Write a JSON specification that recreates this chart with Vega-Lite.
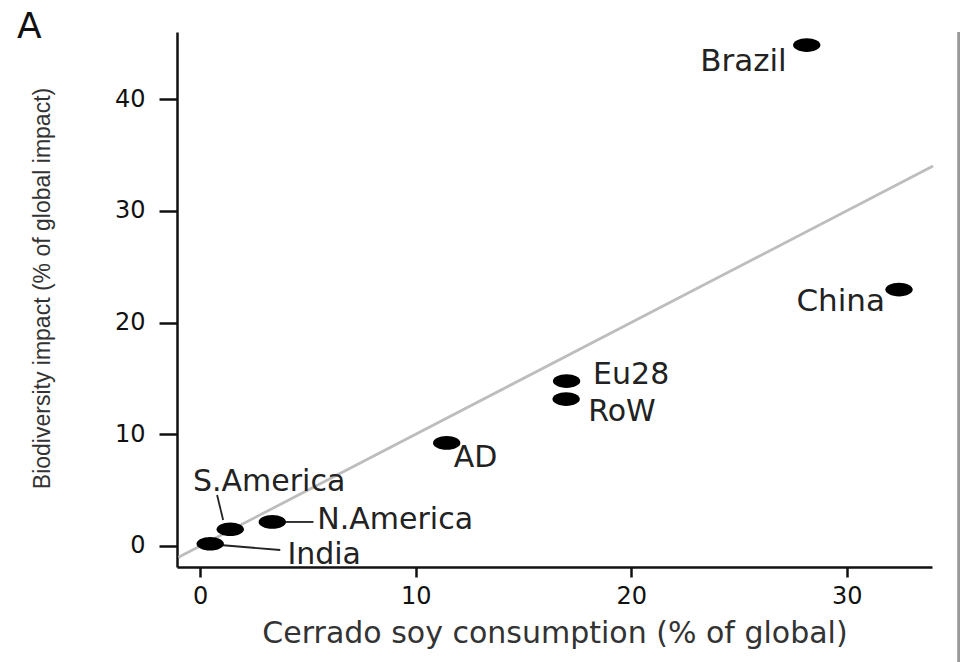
{
  "$schema": "https://vega.github.io/schema/vega-lite/v6.json",
  "width": 755,
  "height": 535,
  "autosize": "none",
  "padding": {"left": 177, "top": 32, "right": 28, "bottom": 95},
  "background": "white",
  "title": {"text": "A", "anchor": "start", "frame": "group", "dx": -160, "dy": 48, "baseline": "alphabetic", "fontSize": 36, "font": "DejaVu Sans", "fontWeight": "normal", "color": "#111"},
  "datasets": {
    "countries": [
      {"country": "Brazil", "x": 28.14, "y": 44.83, "lx": 27.21, "ly": 43.3},
      {"country": "China", "x": 32.42, "y": 22.95, "lx": 31.77, "ly": 21.83},
      {"country": "Eu28", "x": 17.0, "y": 14.76, "lx": 18.23, "ly": 15.3},
      {"country": "RoW", "x": 16.98, "y": 13.15, "lx": 18.0, "ly": 12.0},
      {"country": "AD", "x": 11.44, "y": 9.22, "lx": 11.77, "ly": 7.9},
      {"country": "N.America", "x": 3.35, "y": 2.15, "lx": 5.44, "ly": 2.35},
      {"country": "S.America", "x": 1.4, "y": 1.5, "lx": -0.33, "ly": 5.73},
      {"country": "India", "x": 0.47, "y": 0.2, "lx": 4.05, "ly": -0.8}
    ],
    "leaders": [
      {"country": "S.America", "x": 0.79, "y": 4.56, "x2": 1.07, "y2": 2.33},
      {"country": "N.America", "x": 3.95, "y": 2.15, "x2": 5.26, "y2": 2.15},
      {"country": "India", "x": 0.93, "y": 0.09, "x2": 3.72, "y2": -0.36}
    ],
    "identity": [
      {"x": -1.0, "y": -1.0},
      {"x": 34.0, "y": 34.0}
    ],
    "frame": [
      {"x": 35.2, "y": 46.0, "y2": -10.5}
    ]
  },
  "config": {
    "view": {"stroke": null},
    "axis": {
      "grid": false,
      "domainColor": "#111",
      "domainWidth": 2.5,
      "tickColor": "#111",
      "tickWidth": 2.5,
      "labelFont": "DejaVu Sans",
      "labelFontSize": 24,
      "labelColor": "#111",
      "titleFontWeight": "normal",
      "titleColor": "#333"
    },
    "axisX": {
      "tickSize": 10,
      "labelPadding": 7,
      "titleFont": "DejaVu Sans",
      "titleFontSize": 30,
      "titleBaseline": "middle",
      "titleY": 66
    },
    "axisY": {
      "tickSize": 18,
      "labelPadding": 14,
      "titleFont": "Liberation Sans",
      "titleFontSize": 23,
      "titleAngle": -90,
      "titleBaseline": "middle",
      "titleAlign": "center",
      "titleX": -135,
      "titleY": 256
    }
  },
  "layer": [
    {
      "data": {"name": "identity"},
      "mark": {"type": "line", "color": "#bdbdbd", "strokeWidth": 2.8},
      "encoding": {
        "x": {"field": "x", "type": "quantitative", "scale": {"domain": [-1.07, 33.95], "nice": false, "zero": false}, "axis": {"values": [0, 10, 20, 30], "title": "Cerrado soy consumption (% of global)"}},
        "y": {"field": "y", "type": "quantitative", "scale": {"domain": [-1.88, 46.0], "nice": false, "zero": false}, "axis": {"values": [0, 10, 20, 30, 40], "title": "Biodiversity impact (% of global impact)"}}
      }
    },
    {
      "data": {"name": "frame"},
      "mark": {"type": "rule", "color": "#999999", "strokeWidth": 3.5},
      "encoding": {
        "x": {"field": "x", "type": "quantitative", "scale": {"domain": [-1.07, 33.95], "nice": false, "zero": false}, "axis": {"values": [0, 10, 20, 30], "title": "Cerrado soy consumption (% of global)"}},
        "y": {"field": "y", "type": "quantitative", "scale": {"domain": [-1.88, 46.0], "nice": false, "zero": false}, "axis": {"values": [0, 10, 20, 30, 40], "title": "Biodiversity impact (% of global impact)"}},
        "y2": {"field": "y2"}
      }
    },
    {
      "data": {"name": "leaders"},
      "mark": {"type": "rule", "color": "#222", "strokeWidth": 1.8},
      "encoding": {
        "x": {"field": "x", "type": "quantitative", "scale": {"domain": [-1.07, 33.95], "nice": false, "zero": false}, "axis": {"values": [0, 10, 20, 30], "title": "Cerrado soy consumption (% of global)"}},
        "y": {"field": "y", "type": "quantitative", "scale": {"domain": [-1.88, 46.0], "nice": false, "zero": false}, "axis": {"values": [0, 10, 20, 30, 40], "title": "Biodiversity impact (% of global impact)"}},
        "x2": {"field": "x2"},
        "y2": {"field": "y2"}
      }
    },
    {
      "data": {"name": "countries"},
      "mark": {"type": "point", "shape": "M-1,0A1,0.5,0,1,1,1,0A1,0.5,0,1,1,-1,0Z", "filled": true, "color": "#000", "size": 750, "opacity": 1},
      "encoding": {
        "x": {"field": "x", "type": "quantitative", "scale": {"domain": [-1.07, 33.95], "nice": false, "zero": false}, "axis": {"values": [0, 10, 20, 30], "title": "Cerrado soy consumption (% of global)"}},
        "y": {"field": "y", "type": "quantitative", "scale": {"domain": [-1.88, 46.0], "nice": false, "zero": false}, "axis": {"values": [0, 10, 20, 30, 40], "title": "Biodiversity impact (% of global impact)"}}
      }
    },
    {
      "data": {"name": "countries"},
      "transform": [{"filter": {"field": "country", "oneOf": ["Brazil", "China"]}}],
      "mark": {"type": "text", "align": "right", "baseline": "middle", "font": "DejaVu Sans", "fontSize": 31, "color": "#222"},
      "encoding": {
        "x": {"field": "lx", "type": "quantitative", "scale": {"domain": [-1.07, 33.95], "nice": false, "zero": false}, "axis": {"values": [0, 10, 20, 30], "title": "Cerrado soy consumption (% of global)"}},
        "y": {"field": "ly", "type": "quantitative", "scale": {"domain": [-1.88, 46.0], "nice": false, "zero": false}, "axis": {"values": [0, 10, 20, 30, 40], "title": "Biodiversity impact (% of global impact)"}},
        "text": {"field": "country", "type": "nominal"}
      }
    },
    {
      "data": {"name": "countries"},
      "transform": [{"filter": {"not": {"field": "country", "oneOf": ["Brazil", "China"]}}}],
      "mark": {"type": "text", "align": "left", "baseline": "middle", "font": "DejaVu Sans", "fontSize": 30, "color": "#222"},
      "encoding": {
        "x": {"field": "lx", "type": "quantitative", "scale": {"domain": [-1.07, 33.95], "nice": false, "zero": false}, "axis": {"values": [0, 10, 20, 30], "title": "Cerrado soy consumption (% of global)"}},
        "y": {"field": "ly", "type": "quantitative", "scale": {"domain": [-1.88, 46.0], "nice": false, "zero": false}, "axis": {"values": [0, 10, 20, 30, 40], "title": "Biodiversity impact (% of global impact)"}},
        "text": {"field": "country", "type": "nominal"}
      }
    }
  ]
}
